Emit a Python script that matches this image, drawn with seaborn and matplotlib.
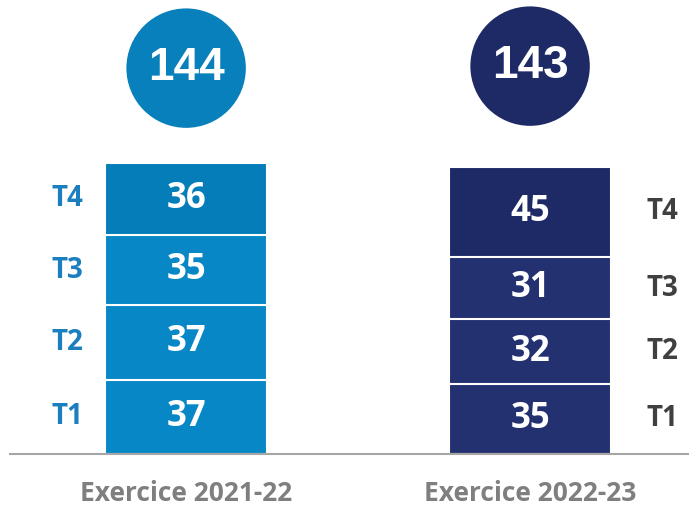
import numpy as np
import pandas as pd
import matplotlib
matplotlib.use("Agg")
import matplotlib.pyplot as plt
import seaborn as sns

# Données
exercices = ["Exercice 2021-22", "Exercice 2022-23"]
trimestres = ["T1", "T2", "T3", "T4"]
valeurs_2122 = [37, 37, 35, 36]
valeurs_2223 = [35, 32, 31, 45]
totaux = [144, 143]

# Couleurs
bleu = ["#0787c5", "#0787c5", "#0787c5", "#047db8"]
marine = ["#243171", "#243171", "#243171", "#1e2a66"]
cercles = ["#0780bc", "#1e2a66"]

sns.set_theme(style="white")
plt.rcParams["font.family"] = ["Open Sans", "DejaVu Sans"]

fig = plt.figure(figsize=(6.89, 5.08), dpi=100)
ax = fig.add_axes([10 / 689, 54 / 508, 679 / 689, 454 / 508])

df = pd.DataFrame({"T": trimestres, "a": valeurs_2122, "b": valeurs_2223})
cum_a = df["a"].cumsum()
cum_b = df["b"].cumsum()

# barres empilées : on dessine les cumuls du plus grand au plus petit
for i in reversed(range(4)):
    sns.barplot(x=exercices, y=[cum_a[i], cum_b[i]], hue=exercices,
                palette=[bleu[i], marine[i]], legend=False, width=0.47,
                edgecolor="white", linewidth=1.5, saturation=1, ax=ax)

# valeurs dans les segments + étiquettes T
for i, t in enumerate(trimestres):
    ya = cum_a[i] - valeurs_2122[i] / 2
    yb = cum_b[i] - valeurs_2223[i] / 2
    ax.text(0, ya, str(valeurs_2122[i]), ha="center", va="center",
            color="white", fontsize=25, fontweight="bold")
    ax.text(1, yb, str(valeurs_2223[i]), ha="center", va="center",
            color="white", fontsize=25, fontweight="bold")
    ax.text(-0.346, ya, t, ha="center", va="center", color="#1b7fbf",
            fontsize=20, fontweight="bold")
    ax.text(1.384, yb, t, ha="center", va="center", color="#404040",
            fontsize=20, fontweight="bold")

# cercles des totaux
ax.scatter([0, 1], [192, 193], s=86 ** 2, c=cercles, linewidths=0, zorder=3)
for i, tot in enumerate(totaux):
    ax.text(i, [192, 193][i], str(tot), ha="center", va="center",
            color="white", fontsize=33, fontweight="bold",
            family="Liberation Sans", zorder=4)

ax.set_xlim(-0.512, 1.462)
ax.set_ylim(0, 225.9)
ax.set_ylabel("")
ax.set_yticks([])
ax.set_xticks([0, 1])
ax.set_xticklabels(exercices, fontsize=19, fontweight="bold", color="#7f7f7f")
ax.tick_params(axis="x", length=0, pad=19)
for s in ["top", "left", "right"]:
    ax.spines[s].set_visible(False)
ax.spines["bottom"].set_color("#a6a6a6")
ax.spines["bottom"].set_linewidth(1.5)

fig.savefig("out.png", dpi=100)
